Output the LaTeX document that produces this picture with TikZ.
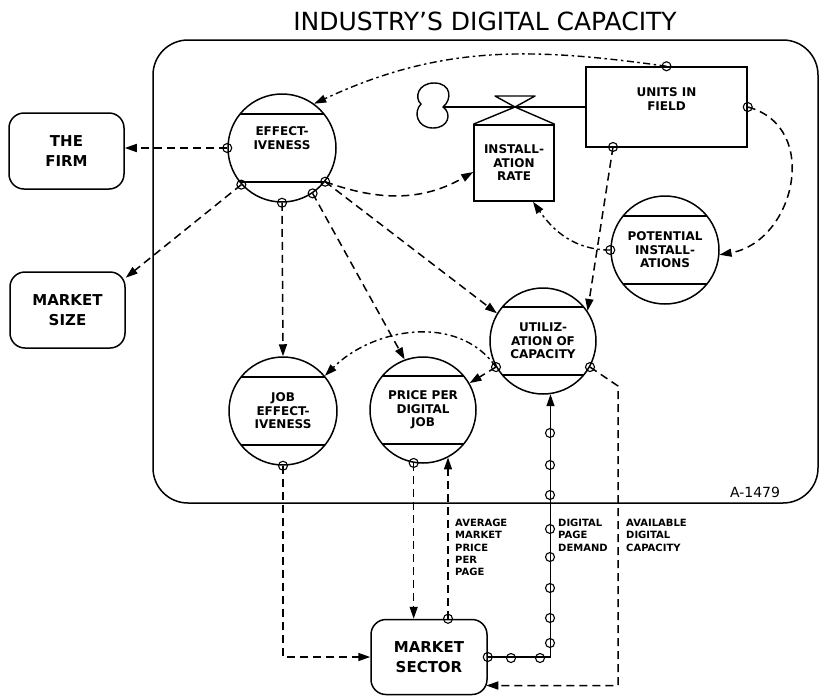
\documentclass[tikz,border=0pt]{standalone}
\usepackage{fontspec}
\setmainfont{DejaVu Sans}
\usetikzlibrary{arrows.meta}
\begin{document}
\begin{tikzpicture}[x=1pt,y=1pt,
  levelc/.style={circle,draw,line width=1.5pt,minimum size=108pt,inner sep=0pt,align=center,
     font=\fontsize{12}{13.5}\selectfont\bfseries,
     path picture={\draw[line width=1.5pt] ([yshift=34pt]path picture bounding box.west) -- ([yshift=34pt]path picture bounding box.east);
                   \draw[line width=1.5pt] ([yshift=-34pt]path picture bounding box.west) -- ([yshift=-34pt]path picture bounding box.east);}},
  rbox/.style={draw,line width=1.5pt,rounded corners=15pt,minimum width=115pt,minimum height=76pt,align=center,font=\fontsize{15}{19.5}\selectfont\bfseries,inner sep=0pt},
  levelbox/.style={draw,line width=1.5pt,align=center,inner sep=0pt,font=\fontsize{12}{13.5}\selectfont\bfseries},
  srcmark/.style={circle,draw,line width=1.1pt,minimum size=9pt,inner sep=0pt},
  arrowhd/.style={-{Triangle[length=12pt,width=8pt]}},
  infolink/.style={arrowhd,line width=1.5pt,dash pattern=on 8pt off 5pt},
  infodd/.style={arrowhd,line width=1.4pt,dash pattern=on 7pt off 3.5pt on 2.5pt off 3.5pt},
  flowlink/.style={arrowhd,line width=1.4pt},
  lbltext/.style={anchor=north west,align=left,inner sep=0pt,font=\fontsize{10}{12.3}\selectfont\bfseries}
]
\useasboundingbox (0,0) rectangle (835,-697);
\node[font=\fontsize{25}{25}\selectfont] (title) at (485,-21) {INDUSTRY'S DIGITAL CAPACITY};
\node[draw,line width=1.5pt,rounded corners=35pt,minimum width=665pt,minimum height=463pt,inner sep=0pt] (industry) at (485.5,-271.5) {};

\node[rbox] (firm) at (66.5,-151) {THE\\FIRM};
\node[rbox] (msize) at (67.5,-310) {MARKET\\SIZE};
\node[rbox,minimum width=116pt,minimum height=75pt] (msec) at (429,-657) {MARKET\\SECTOR};

\node[levelc] (eff) at (282,-148) {EFFECT-\\IVENESS\\[6pt]};
\node[levelc] (pot) at (665,-250) {POTENTIAL\\INSTALL-\\ATIONS};
\node[levelc,minimum size=106pt] (util) at (543,-341) {UTILIZ-\\ATION OF\\CAPACITY};
\node[levelc] (job) at (283,-411) {JOB\\EFFECT-\\IVENESS};
\node[levelc,minimum size=106pt] (price) at (423,-410) {PRICE PER\\DIGITAL\\JOB};
\node[levelbox,minimum width=80pt,minimum height=76pt] (instrate) at (514,-163) {INSTALL-\\ATION\\RATE};
\node[levelbox,minimum width=161pt,minimum height=80pt] (units) at (666.5,-107) {UNITS IN\\FIELD\\[2pt]};

% cloud, flow and valve
\draw[line width=1.4pt] (443,-107) .. controls (452,-100) and (452,-83) .. (434,-83) .. controls (418,-83) and (414,-98) .. (421,-104) .. controls (413,-112) and (417,-128) .. (433,-128) .. controls (449,-128) and (452,-113) .. (443,-107) -- cycle;
\coordinate (cloudR) at (443,-107);
\draw[line width=1.4pt] (cloudR) -- (units.west);
\coordinate (vc) at (515,-107);
\draw[line width=1.4pt,line join=round] (495,-96) -- (535,-96) -- (vc) -- cycle;
\draw[line width=1.4pt] (instrate.north west) -- (vc) -- (instrate.north east);

% markers
\node[srcmark] (e1) at (eff.180) {};
\node[srcmark] (e2) at (eff.-138) {};
\node[srcmark] (e3) at (eff.-90) {};
\node[srcmark] (e4) at (eff.-56) {};
\node[srcmark] (e5) at (eff.-38) {};
\node[srcmark] (u1) at (units.north) {};
\node[srcmark] (u2) at (units.east) {};
\node[srcmark] (u3) at (613,-147) {};
\node[srcmark] (p1) at (pot.180) {};
\node[srcmark] (ul) at (util.-151) {};
\node[srcmark] (ur) at (util.-29) {};
\node[srcmark] (jb) at (job.-90) {};
\node[srcmark] (pb) at (price.-100) {};
\node[srcmark] (mt) at ([xshift=19pt]msec.north) {};
\node[srcmark] (mr) at (msec.east) {};

% information links
\draw[infolink] (e1.center) -- (firm.east |- e1);
\draw[infolink] (e2.center) -- (msize.29);
\draw[infolink] (e3.center) -- (job.north);
\draw[infolink] (e4.center) -- (price.110);
\draw[infolink] (e5.center) -- (util.149);
\draw[infolink] (e5.center) to[out=-20,in=210] ([yshift=-9pt]instrate.west);
\draw[infodd] (u1.center) to[out=172,in=25] (eff.54);
\draw[infolink] (u2.center) to[out=-15,in=10,looseness=1.3] (pot.-5);
\draw[infolink] (u3.center) -- (util.34);
\draw[infodd] (p1.center) to[out=180,in=-55] ([xshift=19pt]instrate.south);
\draw[infolink] (ul.center) -- (price.30);
\draw[infodd] (ul.center) to[out=125,in=45] (job.40);
\draw[infolink] (jb.center) |- (msec.west);
\draw[infolink] (pb.center) -- (pb |- msec.north);
\draw[infolink] (mt.center) -- (mt |- price.-62);
\coordinate (acb) at (618,-386);
\draw[infolink] (ur.center) -- (acb) |- ([xshift=-1.5pt,yshift=-28.5pt]msec.east);

% demand flow
\draw[flowlink] (mr.center) -| (util.-82);
\foreach \px/\py [count=\i] in {511/658,540/658,550/643,550/618,550/588,550/557,550/529,550/495,550/465,550/433}
  \node[srcmark] (d\i) at (\px,-\py) {};

% labels
\node[lbltext] (avg) at (455,-519) {AVERAGE\\MARKET\\PRICE\\PER\\PAGE};
\node[lbltext] (dpd) at (558,-519) {DIGITAL\\PAGE\\DEMAND};
\node[lbltext] (adc) at (626,-519) {AVAILABLE\\DIGITAL\\CAPACITY};
\node[font=\fontsize{14}{14}\selectfont] (code) at (755,-492) {A-1479};
\end{tikzpicture}
\end{document}
